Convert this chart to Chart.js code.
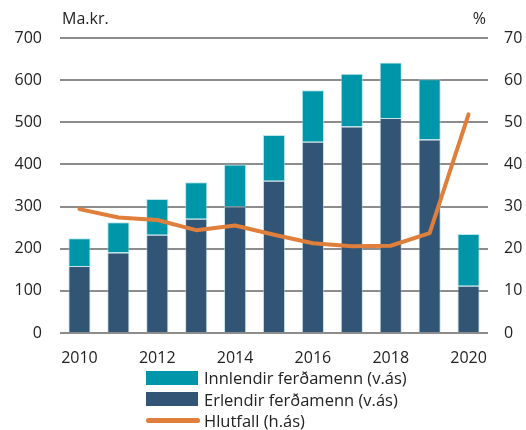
<!DOCTYPE html>
<html>
<head>
<meta charset="utf-8">
<script src="https://cdn.jsdelivr.net/npm/chart.js@4"></script>
<style>
  html, body { margin: 0; background: #fff; font-family: "Open Sans", sans-serif; overflow: hidden; }
  #wrap { position: relative; width: 526px; height: 367px; }
  #legend { position: absolute; left: 146px; top: 367px; font-size: 16.5px; color: #222; }
  .item { display: flex; align-items: center; height: 21.5px; }
  .box { width: 52px; height: 14px; margin-right: 6px; }
  .ln { width: 54px; height: 5px; border-radius: 3px; margin-right: 4px; }
</style>
</head>
<body>
<div id="wrap"><canvas id="chart"></canvas></div>
<div id="legend">
  <div class="item"><span class="box" style="background:#0096a9"></span>Innlendir ferðamenn (v.ás)</div>
  <div class="item"><span class="box" style="background:#325575"></span>Erlendir ferðamenn (v.ás)</div>
  <div class="item"><span class="ln" style="background:#e07e3c"></span>Hlutfall (h.ás)</div>
</div>
<script>
// Ferðaþjónusta: útgjöld ferðamanna (ma.kr.) og hlutfall innlendra (%)
const years = ['2010', '2011', '2012', '2013', '2014', '2015', '2016', '2017', '2018', '2019', '2020'];
const erlendir = [159, 191, 233, 271, 300, 361, 454, 490, 510, 459, 112];
const innlendir = [66, 72, 85, 87, 100, 109, 122, 125, 132, 143, 123];
const hlutfall = [29.4, 27.4, 26.8, 24.4, 25.5, 23.3, 21.3, 20.6, 20.7, 23.7, 51.9];

const textColor = '#222';
const gridColor = '#8c8c8c';
const tickFont = { family: 'Open Sans', size: 16 };

// titlar ofan við ásana
const axisTitles = {
  id: 'axisTitles',
  afterDraw(chart) {
    const c = chart.ctx;
    const area = chart.chartArea;
    c.save();
    c.fillStyle = textColor;
    c.font = '16px "Open Sans"';
    c.textBaseline = 'middle';
    c.textAlign = 'left';
    c.fillText('Ma.kr.', area.left + 2, 19);
    c.textAlign = 'right';
    c.fillText('%', area.right - 2, 19);
    c.restore();
  },
};

new Chart(document.getElementById('chart'), {
  data: {
    labels: years,
    datasets: [
      {
        type: 'line',
        label: 'Hlutfall (h.ás)',
        data: hlutfall,
        yAxisID: 'y2',
        borderColor: '#e07e3c',
        borderWidth: 4,
        pointRadius: 0,
        borderCapStyle: 'round',
        borderJoinStyle: 'round',
        order: 0,
      },
      {
        type: 'bar',
        label: 'Erlendir ferðamenn (v.ás)',
        data: erlendir,
        backgroundColor: '#325575',
        borderColor: 'rgba(160,210,220,0.6)',
        borderWidth: 1,
        stack: 's',
        order: 1,
      },
      {
        type: 'bar',
        label: 'Innlendir ferðamenn (v.ás)',
        data: innlendir,
        backgroundColor: '#0096a9',
        borderColor: 'rgba(160,220,230,0.7)',
        borderWidth: 1,
        stack: 's',
        order: 1,
      },
    ],
  },
  options: {
    responsive: true,
    maintainAspectRatio: false,
    animation: false,
    layout: { padding: { top: 38, left: 0, right: 0, bottom: 0 } },
    datasets: { bar: { categoryPercentage: 1, barPercentage: 0.57 } },
    scales: {
      x: {
        stacked: true,
        grid: { display: false },
        border: { display: false },
        ticks: {
          color: textColor,
          font: tickFont,
          autoSkip: false,
          maxRotation: 0,
          padding: 8,
          callback: (v, i) => (i % 2 === 0 ? years[i] : ''),
        },
        afterFit: (s) => { s.height = 34; },
      },
      y: {
        stacked: true,
        min: 0,
        max: 700,
        ticks: { stepSize: 100, color: textColor, font: tickFont, padding: 18 },
        grid: { color: gridColor, lineWidth: 2, drawTicks: false },
        border: { display: false },
        afterFit: (s) => { s.width = 60; },
      },
      y2: {
        position: 'right',
        min: 0,
        max: 70,
        ticks: { stepSize: 10, color: textColor, font: tickFont, padding: 16 },
        grid: { display: false, drawTicks: false },
        border: { display: false },
        afterFit: (s) => { s.width = 38; },
      },
    },
    plugins: {
      legend: { display: false },
      tooltip: { enabled: false },
    },
  },
  plugins: [axisTitles],
});
</script>
</body>
</html>
